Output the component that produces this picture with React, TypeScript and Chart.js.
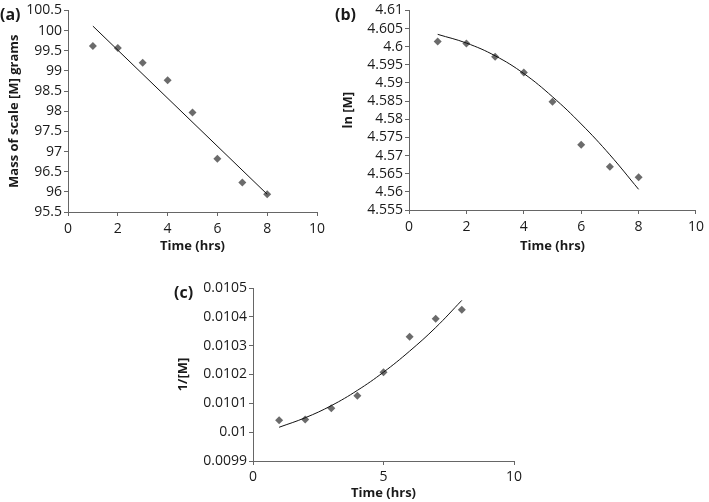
import React, { useEffect, useRef } from "react";
import { Chart, registerables } from "chart.js";

Chart.register(...registerables);

// ---- Data ----
const timeHrs = [1, 2, 3, 4, 5, 6, 7, 8];

// (a) mass of scale
const massValues = [99.62, 99.57, 99.2, 98.77, 97.97, 96.82, 96.23, 95.94];
const massTrendX = [1, 8];
const massTrendY = [100.11, 95.94];

// (b) ln[M]
const lnValues = [4.6014, 4.6009, 4.5972, 4.5929, 4.5848, 4.573, 4.5669, 4.564];
const lnTrendY = [4.6034, 4.601, 4.5975, 4.5926, 4.5862, 4.5787, 4.5702, 4.5607];

// (c) 1/[M]
const invValues = [0.010041, 0.010044, 0.010083, 0.010126, 0.010208, 0.010331, 0.010393, 0.010425];
const invTrendY = [0.010017, 0.01005, 0.010092, 0.010145, 0.010208, 0.010281, 0.010363, 0.010457];

const FONT = "'Open Sans', 'Liberation Sans', sans-serif";
const AXIS_COLOR = "#666666";
const MARKER_COLOR = "#6b6b6b";
const TEXT_COLOR = "#1a1a1a";

type PanelCfg = {
  xs: number[];
  ys: number[];
  tx: number[];
  ty: number[];
  yMin: number;
  yMax: number;
  yStep: number;
  yDecimals: number;
  xStep: number;
  yTitle: string;
  yTitlePad: number;
  yScaleWidth: number;
  xScaleHeight: number;
  xTickPad: number;
  padTop: number;
  padRight: number;
  tension: number;
};

function pts(xs: number[], ys: number[]) {
  return xs.map((x, i) => ({ x, y: ys[i] }));
}

function Panel({
  cfg,
  left,
  top,
  width,
  height,
}: {
  cfg: PanelCfg;
  left: number;
  top: number;
  width: number;
  height: number;
}) {
  const ref = useRef<HTMLCanvasElement | null>(null);
  useEffect(() => {
    if (!ref.current) return;
    const chart = new Chart(ref.current, {
      type: "scatter",
      data: {
        datasets: [
          {
            label: "data",
            data: pts(cfg.xs, cfg.ys),
            pointStyle: "rectRot",
            pointRadius: 4,
            pointBackgroundColor: MARKER_COLOR,
            pointBorderColor: MARKER_COLOR,
            pointBorderWidth: 0,
            showLine: false,
            order: 1,
          },
          {
            label: "trend",
            data: pts(cfg.tx, cfg.ty),
            showLine: true,
            pointRadius: 0,
            borderColor: "#111111",
            borderWidth: 1,
            tension: cfg.tension,
            fill: false,
            order: 0,
          },
        ],
      },
      options: {
        responsive: false,
        animation: false,
        devicePixelRatio: 1,
        layout: {
          padding: { left: 0, top: cfg.padTop, right: cfg.padRight, bottom: 0 },
        },
        plugins: {
          legend: { display: false },
          tooltip: { enabled: false },
        },
        scales: {
          x: {
            type: "linear",
            min: 0,
            max: 10,
            ticks: {
              stepSize: cfg.xStep,
              font: { family: FONT, size: 14 },
              color: TEXT_COLOR,
              padding: cfg.xTickPad,
              maxRotation: 0,
              autoSkip: false,
            },
            grid: {
              display: true,
              drawOnChartArea: false,
              drawTicks: true,
              tickLength: 4,
              color: AXIS_COLOR,
            },
            border: { display: true, color: AXIS_COLOR, width: 1 },
            title: {
              display: true,
              text: "Time (hrs)",
              font: { family: FONT, size: 13, weight: "bold" },
              color: TEXT_COLOR,
              padding: { top: 0, bottom: 1 },
            },
            afterFit: (scale: any) => {
              scale.height = cfg.xScaleHeight;
            },
          },
          y: {
            type: "linear",
            min: cfg.yMin,
            max: cfg.yMax,
            ticks: {
              stepSize: cfg.yStep,
              font: { family: FONT, size: 14 },
              color: TEXT_COLOR,
              padding: 2,
              autoSkip: false,
              callback: (v: any) => String(parseFloat(Number(v).toFixed(cfg.yDecimals))),
            },
            grid: {
              display: true,
              drawOnChartArea: false,
              drawTicks: true,
              tickLength: 4,
              color: AXIS_COLOR,
            },
            border: { display: true, color: AXIS_COLOR, width: 1 },
            title: {
              display: true,
              text: cfg.yTitle,
              font: { family: FONT, size: 13, weight: "bold" },
              color: TEXT_COLOR,
              padding: { top: cfg.yTitlePad, bottom: 0 },
            },
            afterFit: (scale: any) => {
              scale.width = cfg.yScaleWidth;
            },
          },
        },
      } as any,
    });
    return () => chart.destroy();
  }, [cfg]);
  return (
    <canvas
      ref={ref}
      width={width}
      height={height}
      style={{ position: "absolute", left, top, width, height }}
    />
  );
}

const panelA: PanelCfg = {
  xs: timeHrs,
  ys: massValues,
  tx: massTrendX,
  ty: massTrendY,
  yMin: 95.5,
  yMax: 100.5,
  yStep: 0.5,
  yDecimals: 1,
  xStep: 2,
  yTitle: "Mass of scale [M] grams",
  yTitlePad: 6,
  yScaleWidth: 68,
  xScaleHeight: 43,
  xTickPad: 5,
  padTop: 9,
  padRight: 23,
  tension: 0,
};

const panelB: PanelCfg = {
  xs: timeHrs,
  ys: lnValues,
  tx: timeHrs,
  ty: lnTrendY,
  yMin: 4.555,
  yMax: 4.61,
  yStep: 0.005,
  yDecimals: 3,
  xStep: 2,
  yTitle: "ln [M]",
  yTitlePad: 0,
  yScaleWidth: 69,
  xScaleHeight: 45,
  xTickPad: 5,
  padTop: 9,
  padRight: 9,
  tension: 0.4,
};

const panelC: PanelCfg = {
  xs: timeHrs,
  ys: invValues,
  tx: timeHrs,
  ty: invTrendY,
  yMin: 0.0099,
  yMax: 0.0105,
  yStep: 0.0001,
  yDecimals: 4,
  xStep: 5,
  yTitle: "1/[M]",
  yTitlePad: 15,
  yScaleWidth: 93,
  xScaleHeight: 41,
  xTickPad: 4,
  padTop: 28,
  padRight: 26,
  tension: 0.4,
};

const labelStyle: React.CSSProperties = {
  position: "absolute",
  fontFamily: FONT,
  fontWeight: "bold",
  fontSize: 16,
  lineHeight: "16px",
  color: TEXT_COLOR,
  margin: 0,
};

export default function App() {
  return (
    <div
      style={{
        position: "absolute",
        left: 0,
        top: 0,
        width: 709,
        height: 502,
        background: "#ffffff",
        overflow: "hidden",
      }}
    >
      <Panel cfg={panelA} left={0} top={0} width={340} height={255} />
      <Panel cfg={panelB} left={340} top={0} width={369} height={255} />
      <Panel cfg={panelC} left={160} top={260} width={380} height={242} />
      <div style={{ ...labelStyle, left: 0, top: 6 }}>(a)</div>
      <div style={{ ...labelStyle, left: 335, top: 6 }}>(b)</div>
      <div style={{ ...labelStyle, left: 174, top: 284 }}>(c)</div>
    </div>
  );
}
